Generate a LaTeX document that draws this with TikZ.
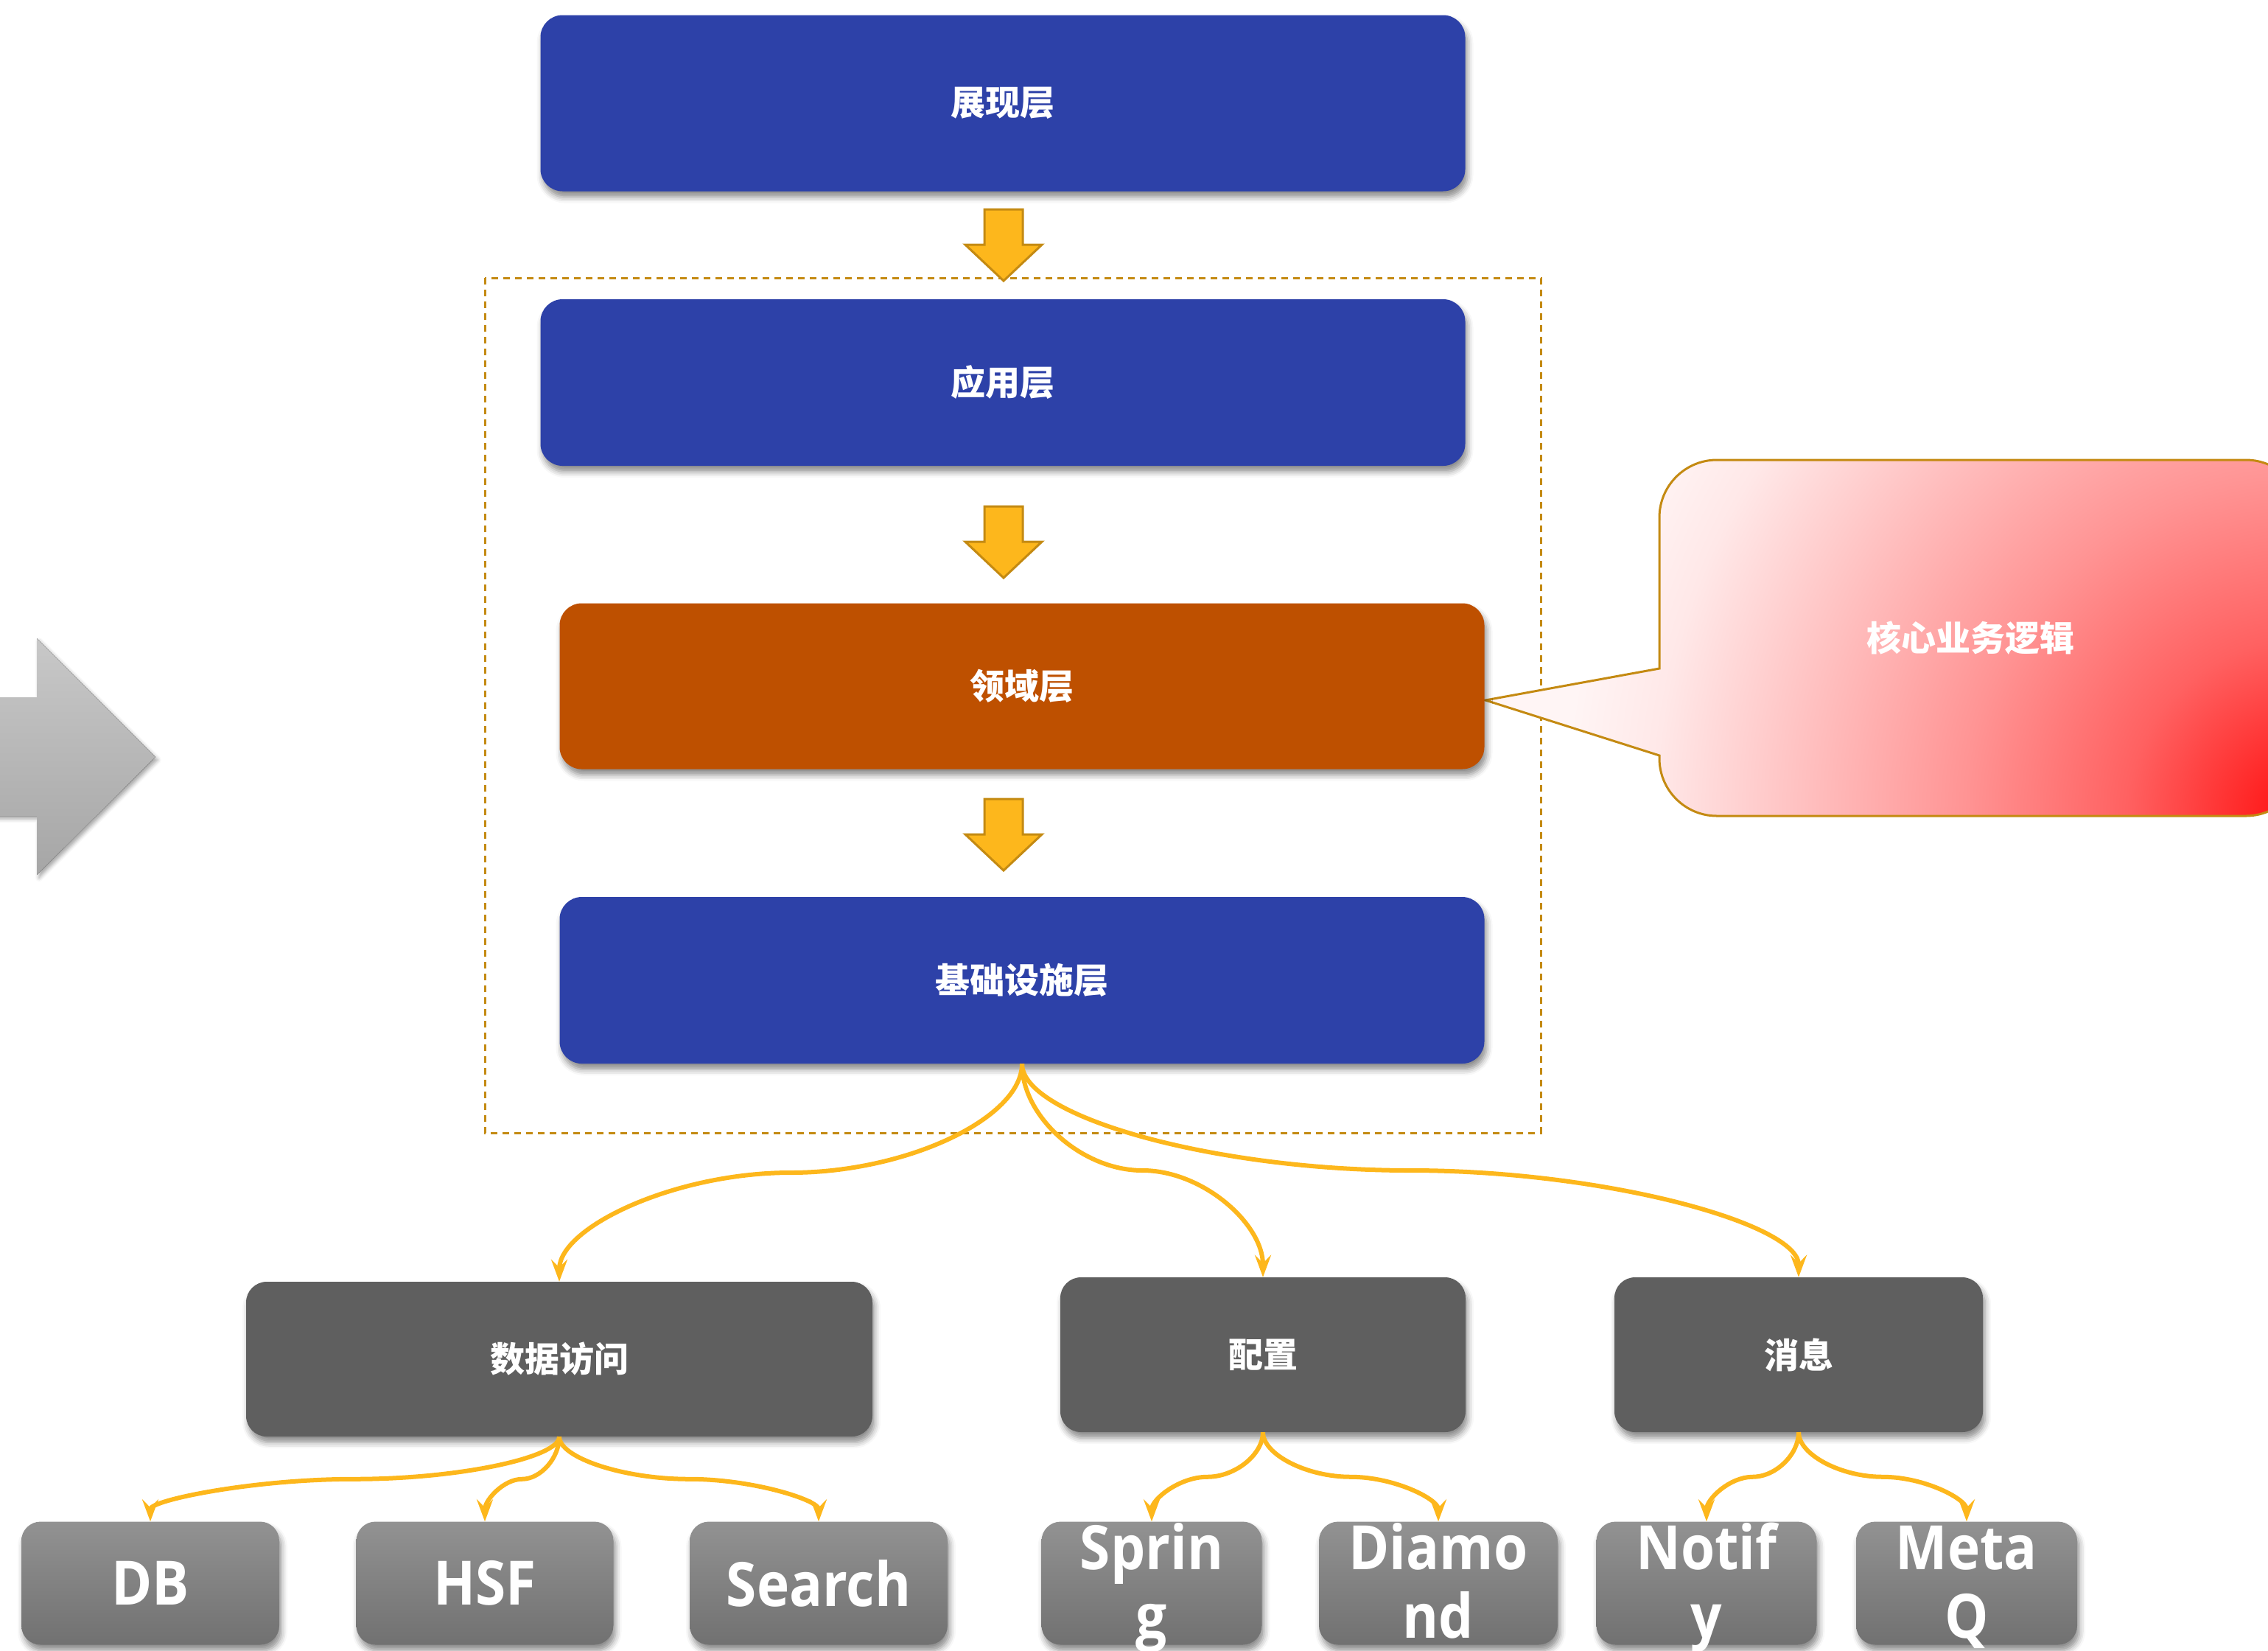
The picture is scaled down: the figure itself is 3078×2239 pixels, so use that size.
\documentclass[tikz,border=0pt]{standalone}
\usepackage{fontspec}
\usetikzlibrary{shadows.blur, arrows.meta, calc}
\newfontfamily\cjk{Noto Sans CJK SC}
\newfontfamily\leaffont{Open Sans}[FakeStretch=0.9]

\definecolor{layerblue}{HTML}{2D41A8}
\definecolor{domainorange}{HTML}{BE5000}
\definecolor{groupgray}{HTML}{5F5F5F}
\definecolor{leaftop}{HTML}{929292}
\definecolor{leafbot}{HTML}{717171}
\definecolor{flowyellow}{HTML}{FDB71C}
\definecolor{goldline}{HTML}{C48A12}
\definecolor{arrowlight}{HTML}{C8C8C8}
\definecolor{arrowdark}{HTML}{A6A6A6}

% red glow spreading from the lower right corner of the callout
\pgfdeclareradialshading{calloutglow}{\pgfpoint{0bp}{0bp}}{%
  color(0bp)=(red!95!white); color(4bp)=(red!62!white);
  color(7.67bp)=(red!42!white); color(14.67bp)=(red!9!white);
  color(16.67bp)=(red!4!white); color(50bp)=(red!4!white)}

\tikzset{
  boxshadow/.style={blur shadow={shadow xshift=3pt, shadow yshift=-8pt,
      shadow blur radius=8pt, shadow opacity=45}},
  layer/.style={rounded corners=30pt, minimum width=1255pt, inner sep=0pt,
      text=white, font=\cjk\bfseries\fontsize{47}{56}\selectfont, boxshadow},
  group/.style={rounded corners=28pt, fill=groupgray, minimum height=210pt,
      inner sep=0pt, text=white, font=\cjk\bfseries\fontsize{47}{56}\selectfont,
      boxshadow},
  leaf/.style={rounded corners=26pt, top color=leaftop, bottom color=leafbot,
      minimum height=167pt, inner sep=0pt, text=white,
      font=\leaffont\bfseries\fontsize{83}{93}\selectfont, boxshadow},
  leaftext/.style={anchor=base, inner sep=0pt, text=white,
      font=\leaffont\bfseries\fontsize{83}{93}\selectfont},
  flow/.style={draw=flowyellow, line width=6pt,
      -{Stealth[length=30pt, width=22pt, inset=11pt]}},
  % curved elbow: leaves vertically, crosses horizontally at mid-height,
  % enters the target vertically
  elbow/.style={to path={let \p1=(\tikztostart), \p2=(\tikztotarget) in
      .. controls (\x1, {\y1+((\y2)-(\y1))/4}) and ({\x1+((\x2)-(\x1))/4}, {((\y1)+(\y2))/2})
      .. ({((\x1)+(\x2))/2}, {((\y1)+(\y2))/2})
      .. controls ({\x1+3*((\x2)-(\x1))/4}, {((\y1)+(\y2))/2}) and (\x2, {\y1+3*((\y2)-(\y1))/4})
      .. (\x2,\y2) \tikztonodes}},
  downarrow/.pic={\draw[fill=flowyellow, draw=goldline, line width=3pt, line join=miter]
      (-26,0) -- (26,0) -- (26,48) -- (52,48) -- (0,97) -- (-52,48) -- (-26,48) -- cycle;}
}

\begin{document}
\begin{tikzpicture}[x=1pt, y=-1pt]
\useasboundingbox (0,0) rectangle (3078,2239);
\clip (0,0) rectangle (3078,2239);

% big grey arrow on the left
\fill[top color=arrowlight, bottom color=arrowdark,
      blur shadow={shadow xshift=3pt, shadow yshift=-4pt, shadow blur radius=5pt, shadow opacity=35}]
  (-20,946) -- (50,946) -- (50,866) -- (211,1027) -- (50,1187) -- (50,1107) -- (-20,1107) -- cycle;

% dashed frame around the inner layers
\draw[goldline, line width=3pt, dash pattern=on 9pt off 7pt] (658,377) rectangle (2091,1537);

% callout pointing at the domain layer
\draw[goldline, line width=3pt, fill=red!4!white,
      path picture={\shade[shading=calloutglow] (3126,1107) circle[radius=1500pt];}]
  (2016,950) -- (2252,907) -- (2252,702)
  .. controls (2252,659) and (2287,624) .. (2330,624) -- (3048,624)
  .. controls (3091,624) and (3126,659) .. (3126,702) -- (3126,1029)
  .. controls (3126,1072) and (3091,1107) .. (3048,1107) -- (2330,1107)
  .. controls (2287,1107) and (2252,1072) .. (2252,1029) -- (2252,1025) -- cycle;
\node[text=white, font=\cjk\bfseries\fontsize{47}{56}\selectfont] (core) at (2674,866) {核心业务逻辑};

% layers
\node[layer, fill=layerblue, minimum height=239pt] (present) at (1361,140) {展现层};
\node[layer, fill=layerblue, minimum height=226pt] (app) at (1361,519) {应用层};
\node[layer, fill=domainorange, minimum height=225pt] (domain) at (1387,931) {领域层};
\node[layer, fill=layerblue, minimum height=226pt] (infra) at (1387,1330) {基础设施层};

\pic (arrowA) at (1362,284) {downarrow};
\pic (arrowB) at (1362,687) {downarrow};
\pic (arrowC) at (1362,1084) {downarrow};

% infrastructure groups
\node[group, minimum width=850pt] (data) at (759,1844) {数据访问};
\node[group, minimum width=550pt] (config) at (1714,1838) {配置};
\node[group, minimum width=500pt] (msg) at (2441,1838) {消息};

% leaf components
\node[leaf, minimum width=350pt] (db) at (204,2148) {DB};
\node[leaf, minimum width=349pt] (hsf) at (658,2148) {HSF};
\node[leaf, minimum width=350pt] (search) at (1111,2148) {Search};
\node[leaf, minimum width=299pt] (spring) at (1563,2148) {};
\node[leaf, minimum width=324pt] (diamond) at (1952,2148) {};
\node[leaf, minimum width=299pt] (notify) at (2316,2148) {};
\node[leaf, minimum width=300pt] (metaq) at (2669,2148) {};

\node[leaftext] (spring1) at (1563,2129) {Sprin};
\node[leaftext] (spring2) at (1563,2222) {g};
\node[leaftext] (diamond1) at (1952,2129) {Diamo};
\node[leaftext] (diamond2) at (1952,2222) {nd};
\node[leaftext] (notify1) at (2316,2129) {Notif};
\node[leaftext] (notify2) at (2316,2222) {y};
\node[leaftext] (metaq1) at (2669,2129) {Meta};
\node[leaftext] (metaq2) at (2669,2222) {Q};

% connectors
\draw[flow] (infra.south) to[elbow] (data.north);
\draw[flow] (infra.south) to[elbow] (config.north);
\draw[flow] (infra.south) to[elbow] (msg.north);

\draw[flow] (data.south) to[elbow] (db.north);
\draw[flow] (data.south) to[elbow] (hsf.north);
\draw[flow] (data.south) to[elbow] (search.north);

\draw[flow] (config.south) to[elbow] (spring.north);
\draw[flow] (config.south) to[elbow] (diamond.north);

\draw[flow] (msg.south) to[elbow] (notify.north);
\draw[flow] (msg.south) to[elbow] (metaq.north);
\end{tikzpicture}
\end{document}
